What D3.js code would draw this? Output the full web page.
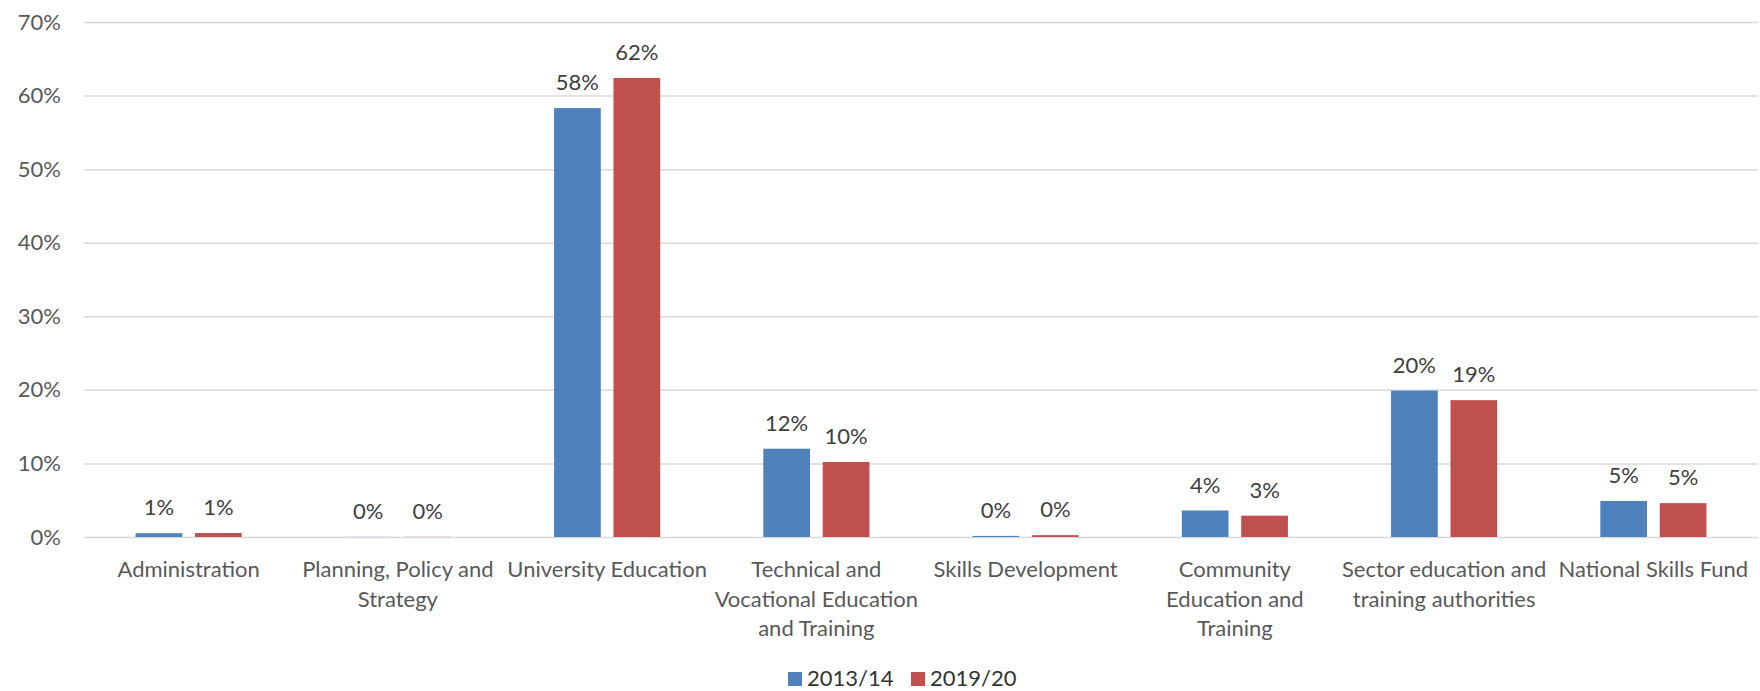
<!DOCTYPE html>
<html>
<head>
<meta charset="utf-8">
<script src="https://cdn.jsdelivr.net/npm/d3@7"></script>
<style>
  html, body { margin: 0; padding: 0; background: #fff; }
  svg { display: block; font-family: Lato, "Open Sans", sans-serif; }
</style>
</head>
<body>
<svg id="chart" width="1760" height="691"></svg>
<script>
// Share of programme spending by programme, two financial years
const categories = [
  "Administration",
  "Planning, Policy and Strategy",
  "University Education",
  "Technical and Vocational Education and Training",
  "Skills Development",
  "Community Education and Training",
  "Sector education and training authorities",
  "National Skills Fund"
];
// Wrapped lines for the category axis labels
const categoryLines = [
  ["Administration"],
  ["Planning, Policy and", "Strategy"],
  ["University Education"],
  ["Technical and", "Vocational Education", "and Training"],
  ["Skills Development"],
  ["Community", "Education and", "Training"],
  ["Sector education and", "training authorities"],
  ["National Skills Fund"]
];
const seriesNames = ["2013/14", "2019/20"];
const values2013 = [0.0052, 0.0002, 0.583, 0.120, 0.0015, 0.036, 0.199, 0.049];
const values2019 = [0.0054, 0.0002, 0.624, 0.102, 0.0025, 0.029, 0.186, 0.046];
const yTicks = [0, 0.1, 0.2, 0.3, 0.4, 0.5, 0.6, 0.7];
const colors = ["#4F81BD", "#C0504D"];

const seriesValues = [values2013, values2019];
const rows = categories.map((c, i) => ({
  category: c,
  lines: categoryLines[i],
  bars: seriesNames.map((s, j) => ({ series: s, value: seriesValues[j][i] }))
}));

const svg = d3.select("#chart");
const plot = { left: 84, right: 1758, top: 22, bottom: 537 };
const fontSize = 22;

const x0 = d3.scaleBand()
  .domain(categories)
  .range([plot.left, plot.right])
  .padding(0);

const x1 = d3.scaleBand()
  .domain(seriesNames)
  .range([0, x0.bandwidth()])
  .paddingInner(0.214)
  .paddingOuter(0.868);

const y = d3.scaleLinear()
  .domain([0, 0.7])
  .range([plot.bottom, plot.top]);

const color = d3.scaleOrdinal().domain(seriesNames).range(colors);
const pct = d3.format(".0%");

// Horizontal gridlines with percentage tick labels
const yAxis = d3.axisLeft(y)
  .tickValues(yTicks)
  .tickFormat(pct)
  .tickSize(-(plot.right - plot.left))
  .tickPadding(23);

const gy = svg.append("g")
  .attr("transform", `translate(${plot.left},0)`)
  .call(yAxis);
gy.select(".domain").remove();
gy.selectAll(".tick line")
  .attr("stroke", "#d9d9d9")
  .attr("stroke-width", 1.5);
gy.selectAll(".tick text")
  .attr("fill", "#595959")
  .style("font-size", fontSize + "px")
  .style("font-family", "Lato, sans-serif");

// Grouped bars
const groups = svg.append("g")
  .selectAll("g")
  .data(rows)
  .join("g")
  .attr("transform", d => `translate(${x0(d.category)},0)`);

groups.selectAll("rect")
  .data(d => d.bars)
  .join("rect")
  .attr("x", d => x1(d.series))
  .attr("width", x1.bandwidth())
  .attr("y", d => y(d.value))
  .attr("height", d => y(0) - y(d.value))
  .attr("fill", d => color(d.series));

// Value labels above bars
groups.selectAll("text.value")
  .data(d => d.bars)
  .join("text")
  .attr("class", "value")
  .attr("x", d => x1(d.series) + x1.bandwidth() / 2)
  .attr("y", d => y(d.value) - 18)
  .attr("text-anchor", "middle")
  .attr("fill", "#404040")
  .style("font-size", fontSize + "px")
  .text(d => pct(d.value));

// Category labels below the axis
const catLabels = svg.append("g")
  .selectAll("text")
  .data(rows)
  .join("text")
  .attr("x", d => x0(d.category) + x0.bandwidth() / 2)
  .attr("y", 577)
  .attr("text-anchor", "middle")
  .attr("fill", "#595959")
  .style("font-size", fontSize + "px");

catLabels.selectAll("tspan")
  .data(d => d.lines.map(t => ({ t, x: x0(d.category) + x0.bandwidth() / 2 })))
  .join("tspan")
  .attr("x", d => d.x)
  .attr("dy", (d, i) => i === 0 ? 0 : 29.5)
  .text(d => d.t);

// Legend
const legendX = [788, 911];
const legend = svg.append("g")
  .selectAll("g")
  .data(seriesNames)
  .join("g")
  .attr("transform", (d, i) => `translate(${legendX[i]},672)`);

legend.append("rect")
  .attr("width", 14)
  .attr("height", 14)
  .attr("fill", d => color(d));

legend.append("text")
  .attr("x", 19)
  .attr("y", 14)
  .attr("fill", "#333333")
  .style("font-size", fontSize + "px")
  .text(d => d);
</script>
</body>
</html>
